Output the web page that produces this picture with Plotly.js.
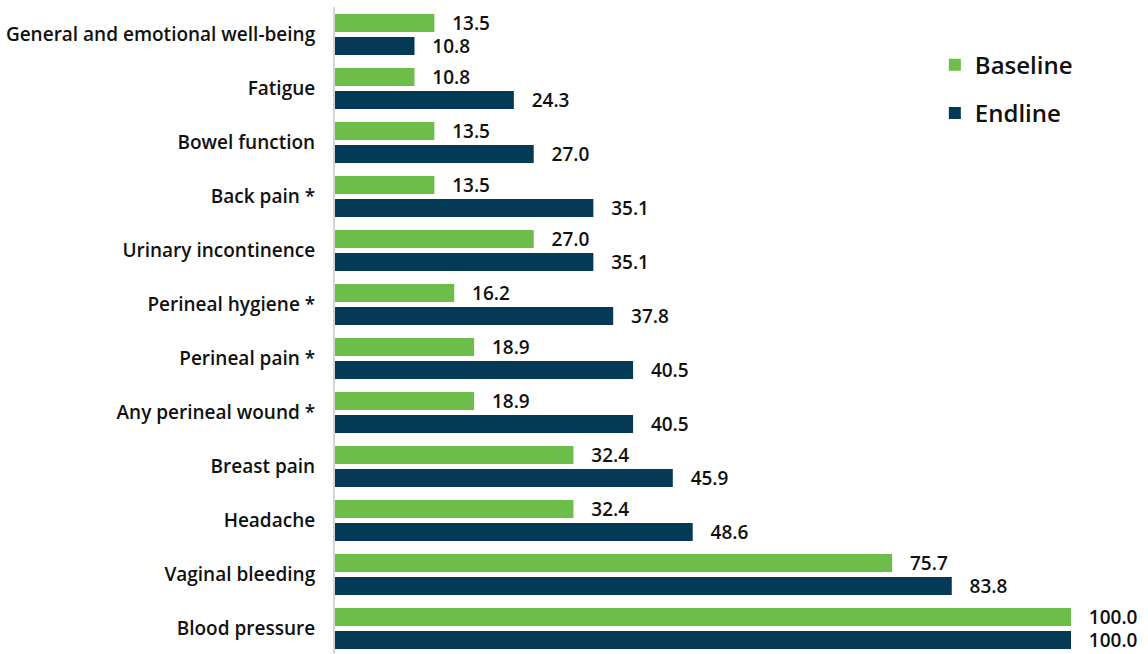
<!DOCTYPE html>
<html>
<head>
<meta charset="utf-8">
<script src="https://cdn.plot.ly/plotly-3.0.1.min.js"></script>
<style>html,body{margin:0;padding:0;background:#fff;}#chart{width:1148px;height:654px;}</style>
</head>
<body>
<div id="chart"></div>
<script>
const categories = ["General and emotional well-being","Fatigue","Bowel function","Back pain *","Urinary incontinence","Perineal hygiene *","Perineal pain *","Any perineal wound *","Breast pain","Headache","Vaginal bleeding","Blood pressure"];
const baseline = [13.5,10.8,13.5,13.5,27.0,16.2,18.9,18.9,32.4,32.4,75.7,100.0];
const endline = [10.8,24.3,27.0,35.1,35.1,37.8,40.5,40.5,45.9,48.6,83.8,100.0];
const seriesNames = ["Baseline","Endline"];

const FONT = "'Open Sans', Roboto, 'Liberation Sans', Arial, sans-serif";
const pad = "\u00a0\u00a0\u00a0";
function mk(name, vals, color, grp){
  return {
    type:'bar', orientation:'h', name:name, y:categories, x:vals,
    marker:{color:color},
    text: vals.map(v => pad + v.toFixed(1)),
    textposition:'outside', cliponaxis:false, constraintext:'none',
    textfont:{family:FONT, size:19, color:'#111', weight:600},
    legendgroup:grp, hoverinfo:'x+y'
  };
}
const data = [
  mk(seriesNames[0], baseline, '#6cbd4a', 'a'),
  mk(seriesNames[1], endline, '#053a57', 'b')
];
const layout = {
  width:1148, height:654,
  margin:{l:335, r:77, t:7, b:0},
  barmode:'group', bargap:0.148, bargroupgap:0.217,
  paper_bgcolor:'#fff', plot_bgcolor:'#fff',
  font:{family:FONT, color:'#111'},
  xaxis:{range:[0,100], showgrid:false, zeroline:false, showticklabels:false, showline:false, fixedrange:true},
  yaxis:{range:[11.472,-0.509], type:'category', showgrid:false, showline:true, linecolor:'#d4d4d4', linewidth:2,
         ticks:'outside', ticklen:14, tickcolor:'rgba(0,0,0,0)',
         tickfont:{family:FONT, size:19, color:'#111', weight:600}},
  legend:{x:0.815, xanchor:'left', y:0.945, yanchor:'top', traceorder:'grouped', tracegroupgap:14,
          font:{family:FONT, size:24, color:'#111', weight:600}, bgcolor:'rgba(0,0,0,0)'},
  showlegend:true
};
Plotly.newPlot('chart', data, layout, {displayModeBar:false, staticPlot:true});
</script>
</body>
</html>
